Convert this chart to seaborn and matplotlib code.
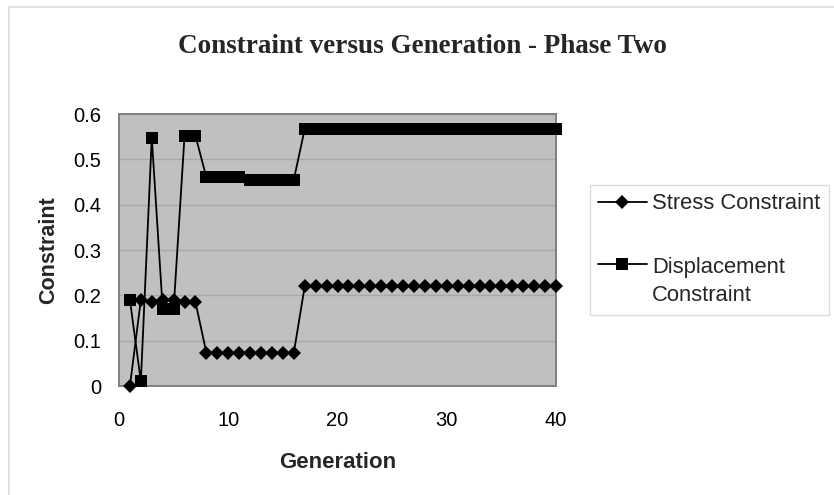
import matplotlib
matplotlib.use("Agg")
import matplotlib.pyplot as plt
from matplotlib.patches import Rectangle
from matplotlib.legend_handler import HandlerLine2D
import seaborn as sns
import pandas as pd

generations = list(range(1, 41))
stress = [0.0, 0.19, 0.185, 0.19, 0.19, 0.185, 0.185,
          0.073, 0.073, 0.073, 0.073, 0.073, 0.073, 0.073, 0.073, 0.073,
          0.22, 0.22, 0.22, 0.22, 0.22, 0.22, 0.22, 0.22, 0.22, 0.22, 0.22, 0.22,
          0.22, 0.22, 0.22, 0.22, 0.22, 0.22, 0.22, 0.22, 0.22, 0.22, 0.22, 0.22]
displacement = [0.19, 0.01, 0.548, 0.17, 0.17, 0.552, 0.552,
                0.46, 0.46, 0.46, 0.46, 0.455, 0.455, 0.455, 0.455, 0.455,
                0.567, 0.567, 0.567, 0.567, 0.567, 0.567, 0.567, 0.567, 0.567, 0.567,
                0.567, 0.567, 0.567, 0.567, 0.567, 0.567, 0.567, 0.567, 0.567, 0.567,
                0.567, 0.567, 0.567, 0.567]
series_names = ["Stress Constraint", "Displacement Constraint"]
legend_labels = ["Stress Constraint", "Displacement\nConstraint"]
x_ticks = [0, 10, 20, 30, 40]
y_ticks = [0, 0.1, 0.2, 0.3, 0.4, 0.5, 0.6]

title = "Constraint versus Generation - Phase Two"
x_label = "Generation"
y_label = "Constraint"

sns.set_style("white")
plt.rcParams["font.family"] = ["Liberation Sans", "DejaVu Sans"]

W, H = 834, 495
fig = plt.figure(figsize=(W / 100, H / 100), dpi=100)
ax = fig.add_axes([119 / W, 1 - 386 / H, 437 / W, 272 / H])
ax.set_facecolor("#c0c0c0")

df_s = pd.DataFrame({"Generation": generations, "Constraint": stress})
df_d = pd.DataFrame({"Generation": generations, "Constraint": displacement})

sns.lineplot(data=df_s, x="Generation", y="Constraint", ax=ax, color="black",
             marker="D", markersize=7.0, linewidth=1.3, label=series_names[0],
             markeredgewidth=0, clip_on=False, zorder=3)
sns.lineplot(data=df_d, x="Generation", y="Constraint", ax=ax, color="black",
             marker="s", markersize=8.0, linewidth=1.3, label=series_names[1],
             markeredgewidth=0, clip_on=False, zorder=3)

ax.set_xlim(0, 40)
ax.set_ylim(0, 0.6)
ax.set_xticks(x_ticks)
ax.set_yticks(y_ticks)
ax.set_yticklabels(["0", "0.1", "0.2", "0.3", "0.4", "0.5", "0.6"])
ax.yaxis.grid(True, color="#a8a8a8", linewidth=1)
ax.xaxis.grid(False)
ax.set_axisbelow(True)
for sp in ax.spines.values():
    sp.set_color("#808080")
    sp.set_linewidth(1.4)
ax.tick_params(axis="both", which="major", direction="out", length=5,
               width=1, color="#a0a0a0", labelsize=14.5, labelcolor="black")
ax.tick_params(axis="x", pad=13)
ax.tick_params(axis="y", pad=8)

ax.set_xlabel(x_label, fontsize=16, fontweight="bold", va="center")
ax.xaxis.set_label_coords(0.5, -0.283)
ax.set_ylabel(y_label, fontsize=15.5, fontweight="bold", va="center")
ax.yaxis.set_label_coords(-0.162, 0.5)

fig.text(422 / W, 1 - 53 / H, title, ha="center", va="baseline",
         fontsize=19.5, fontweight="bold", family=["Liberation Serif", "DejaVu Serif"])


class OffsetHandler(HandlerLine2D):
    def __init__(self, dy=0.0, **kw):
        super().__init__(**kw)
        self.dy = dy

    def create_artists(self, legend, orig_handle, xdescent, ydescent, width,
                       height, fontsize, trans):
        return super().create_artists(legend, orig_handle, xdescent,
                                      ydescent - 2 * self.dy, width, height,
                                      fontsize, trans)


handles, _ = ax.get_legend_handles_labels()
leg = ax.legend(handles, legend_labels, loc="upper left",
                bbox_to_anchor=(590 / W, 1 - 185 / H), bbox_transform=fig.transFigure,
                borderaxespad=0, frameon=True, fancybox=False, fontsize=15.8,
                handlelength=2.2, handletextpad=0.25, borderpad=0.38,
                labelspacing=1.95,
                handler_map={handles[1]: OffsetHandler(dy=13)})
for t in leg.get_texts():
    t.set_linespacing(1.45)
leg.get_frame().set_edgecolor("#d4d4d4")
leg.get_frame().set_linewidth(1)

fig.patches.append(Rectangle((9 / W, -0.1), 1.2, 1 - 7 / H + 0.1,
                             transform=fig.transFigure, fill=False,
                             edgecolor="#d9d9d9", linewidth=1.2))

fig.savefig("out.png", dpi=100, facecolor="white")
